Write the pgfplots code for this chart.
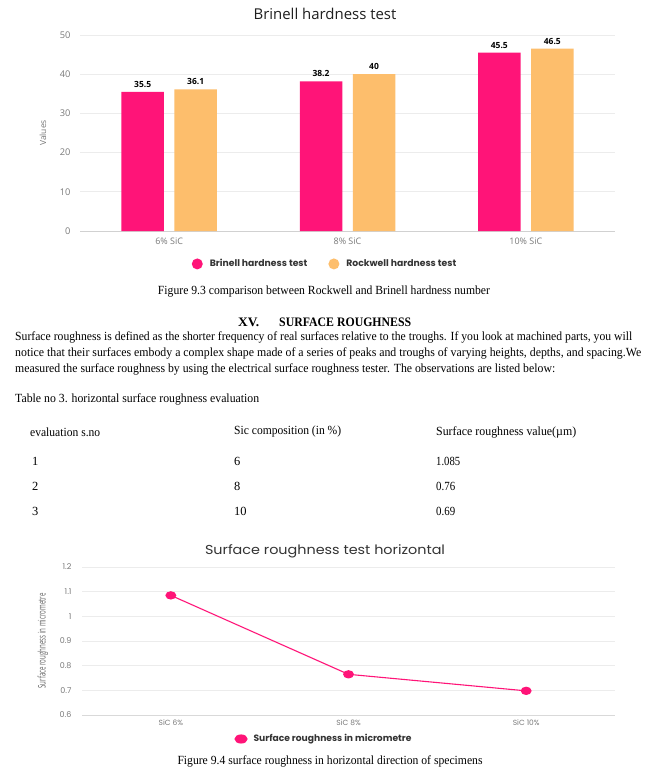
\documentclass[border=0pt]{standalone}
\usepackage{fontspec}
\setmainfont{Liberation Serif}
\newfontfamily\chartfont{Open Sans}
\newfontfamily\popfont{Poppins}
\usepackage{graphicx}
\usepackage{pgfplots}
\pgfplotsset{compat=1.18}
\definecolor{bpink}{HTML}{FF1478}
\definecolor{borange}{HTML}{FDBE6C}
\definecolor{tgray}{HTML}{7A7A7A}
\definecolor{ggray}{HTML}{ECECEC}
\newcommand{\fitw}[2]{\resizebox{#1}{\height}{#2}}
\newcommand{\bodyfont}{\fontsize{12.5}{14}\selectfont}
\begin{document}
\begin{tikzpicture}[x=1bp,y=1bp]
\useasboundingbox[fill=white] (0,0) rectangle (661,-775);
% ---------------- Chart 1
\node[font=\chartfont\fontsize{15}{17}\selectfont, text=black!88] at (325,-14) {Brinell hardness test};
\node[rotate=90, font=\chartfont\fontsize{8.5}{9}\selectfont, text=tgray] at (43,-133) {Values};
\begin{axis}[
  at={(80bp,-231bp)}, anchor=south west, scale only axis,
  width=535bp, height=196bp,
  xmin=-0.5, xmax=2.5, ymin=0, ymax=50,
  xtick={0,1,2}, xticklabels={6\% SiC, 8\% SiC, 10\% SiC},
  ytick={0,10,20,30,40,50},
  /pgf/number format/assume math mode=true,
  ymajorgrids, grid style={ggray, line width=0.8bp},
  axis x line*=bottom, axis y line*=left,
  x axis line style={-, draw=black!18, line width=0.8bp},
  y axis line style={draw=none},
  major tick length=0pt, tick style={draw=none},
  yticklabel style={font=\chartfont\fontsize{9.3}{10}\selectfont, text=tgray, xshift=-6bp},
  xticklabel style={font=\chartfont\fontsize{9}{10}\selectfont, text=tgray, yshift=-3bp},
  ybar, bar width=42.5bp,
  nodes near coords,
  nodes near coords style={font=\chartfont\bfseries\fontsize{8.5}{9}\selectfont, text=black, yshift=1bp},
  legend style={at={(0.458,-0.168)}, anchor=center, draw=none, fill=none,
    legend columns=2, font=\popfont\bfseries\fontsize{9.3}{11}\selectfont, text=black!80,
    /tikz/every even column/.append style={column sep=19bp}},
  clip=false,
]
\addplot[fill=bpink, draw=none, bar shift=-26.5bp,
  legend image code/.code={\fill[bpink] (0bp,0bp) circle (5.5bp); \path[draw=none,fill=none] (-5.5bp,0bp) -- (10.5bp,0bp);}]
  coordinates {(0,35.5) (1,38.2) (2,45.5)};
\addplot[fill=borange, draw=none, bar shift=26.5bp,
  legend image code/.code={\fill[borange] (0bp,0bp) circle (5.5bp); \path[draw=none,fill=none] (-5.5bp,0bp) -- (10.5bp,0bp);}]
  coordinates {(0,36.1) (1,40) (2,46.5)};
\legend{Brinell hardness test, Rockwell hardness test}
\end{axis}
% ---------------- Text
\node[inner sep=0] at (324,-292) {\fitw{332bp}{\bodyfont Figure 9.3 comparison between Rockwell and Brinell hardness number}};
\node[anchor=west, inner sep=0] at (238,-322) {\fitw{21bp}{\fontsize{13}{14}\selectfont\bfseries XV.}};
\node[anchor=west, inner sep=0] at (279,-322) {\fitw{132bp}{\fontsize{13}{14}\selectfont\bfseries SURFACE ROUGHNESS}};
\node[anchor=west, inner sep=0] at (15,-337) {\fitw{617bp}{\bodyfont Surface roughness is defined as the shorter frequency of real surfaces relative to the troughs. If you look at machined parts, you will}};
\node[anchor=west, inner sep=0] at (15,-353) {\fitw{626bp}{\bodyfont notice that their surfaces embody a complex shape made of a series of peaks and troughs of varying heights, depths, and spacing.We}};
\node[anchor=west, inner sep=0] at (15,-369) {\fitw{540bp}{\bodyfont measured the surface roughness by using the electrical surface roughness tester. The observations are listed below:}};
\node[anchor=west, inner sep=0] at (15,-399) {\fitw{244bp}{\bodyfont Table no 3. horizontal surface roughness evaluation}};
\node[anchor=west, inner sep=0] at (30,-432) {\fitw{70bp}{\bodyfont evaluation s.no}};
\node[anchor=west, inner sep=0] at (234,-432) {\fitw{107bp}{\bodyfont Sic composition (in \%)}};
\node[anchor=west, inner sep=0] at (436,-432) {\fitw{140bp}{\bodyfont Surface roughness value(µm)}};
\node[anchor=west, inner sep=0] at (32,-461) {\bodyfont 1};
\node[anchor=west, inner sep=0] at (234,-461) {\bodyfont 6};
\node[anchor=west, inner sep=0] at (436,-461) {\fitw{24bp}{\bodyfont 1.085}};
\node[anchor=west, inner sep=0] at (32,-486) {\bodyfont 2};
\node[anchor=west, inner sep=0] at (234,-486) {\bodyfont 8};
\node[anchor=west, inner sep=0] at (436,-486) {\fitw{19bp}{\bodyfont 0.76}};
\node[anchor=west, inner sep=0] at (32,-511) {\bodyfont 3};
\node[anchor=west, inner sep=0] at (234,-511) {\bodyfont 10};
\node[anchor=west, inner sep=0] at (436,-511) {\fitw{19bp}{\bodyfont 0.69}};
% ---------------- Chart 2
\node[text=black!80] at (325,-551) {\fitw{240bp}{\popfont\fontsize{13}{15}\selectfont Surface roughness test horizontal}};
\node[rotate=90, text=black!60] at (43,-641) {\fitw{95bp}{\chartfont\fontsize{10.5}{11}\selectfont Surface roughness in micrometre}};
\begin{axis}[
  at={(82bp,-715bp)}, anchor=south west, scale only axis,
  width=533bp, height=148bp,
  xmin=-0.5, xmax=2.5, ymin=0.6, ymax=1.2,
  xtick={0,1,2}, xticklabels={SiC 6\%, SiC 8\%, SiC 10\%},
  ytick={0.6,0.7,0.8,0.9,1,1.1,1.2},
  yticklabels={0.6,0.7,0.8,0.9,1,1.1,1.2},
  ymajorgrids, grid style={ggray, line width=0.8bp},
  axis x line*=bottom, axis y line*=left,
  x axis line style={-, draw=black!15, line width=0.8bp},
  y axis line style={draw=none},
  major tick length=0pt, tick style={draw=none},
  yticklabel style={font=\popfont\fontsize{8}{9}\selectfont, text=tgray, xshift=-7bp},
  xticklabel style={font=\popfont\fontsize{7.5}{9}\selectfont, text=tgray, yshift=-1bp},
  legend style={at={(0.454,-0.162)}, anchor=center, draw=none, fill=none,
    font=\popfont\bfseries\fontsize{9.2}{10}\selectfont, text=black!80},
  clip=false,
]
\addplot[color=bpink, line width=1.1bp, mark=*, mark size=3.6bp,
  mark options={xscale=1.35, fill=bpink, draw=bpink},
  legend image code/.code={\fill[bpink] (0bp,0bp) ellipse (6bp and 4bp); \path[draw=none,fill=none] (-6bp,0bp) -- (10.5bp,0bp);}]
  coordinates {(0,1.085) (1,0.765) (2,0.698)};
\legend{Surface roughness in micrometre}
\end{axis}
\node[inner sep=0] at (330,-761) {\fitw{305bp}{\bodyfont Figure 9.4 surface roughness in horizontal direction of specimens}};
\end{tikzpicture}
\end{document}
